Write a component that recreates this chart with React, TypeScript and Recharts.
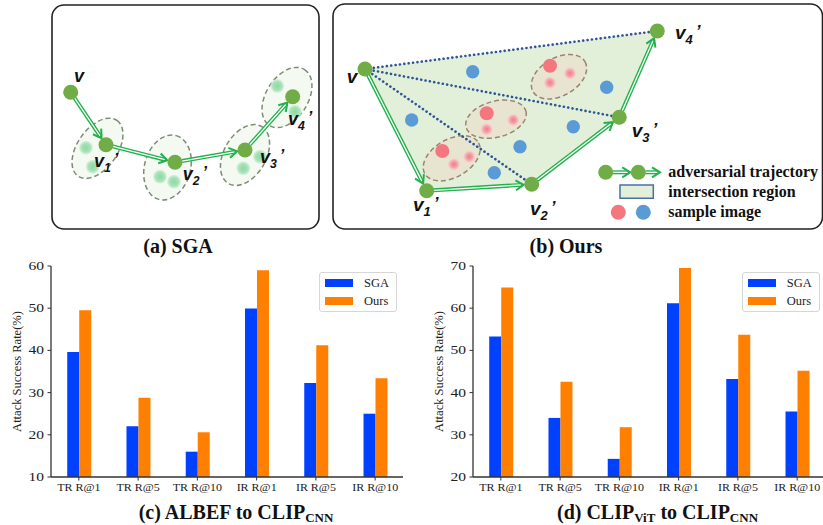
import React from 'react';
import {
  BarChart,
  Bar,
  XAxis,
  YAxis,
  Legend,
  ScatterChart,
  Scatter,
  ReferenceArea,
} from 'recharts';

// ---------- bar charts ----------
const metrics = ['TR R@1', 'TR R@5', 'TR R@10', 'IR R@1', 'IR R@5', 'IR R@10'];
const metricPos = [0, 1, 2, 3, 4, 5];
const methods = ['SGA', 'Ours'];

const albefSga = [39.6, 22.0, 16.0, 49.9, 32.3, 25.0];
const albefOurs = [49.5, 28.8, 20.6, 59.0, 41.2, 33.4];
const albefTicks = [10, 20, 30, 40, 50, 60];

const vitSga = [53.3, 34.0, 24.3, 61.2, 43.2, 35.5];
const vitOurs = [64.9, 42.6, 31.8, 69.5, 53.7, 45.2];
const vitTicks = [20, 30, 40, 50, 60, 70];

// ---------- diagrams (diagram units, y grows downward) ----------
// (a) SGA: step-by-step trajectory
const sgaNodes = [
  { x: 70.7, y: 92.3 },
  { x: 106, y: 144.7 },
  { x: 175, y: 162.3 },
  { x: 245, y: 150 },
  { x: 292.7, y: 96.7 },
];
const sgaNeighbours = [
  { x: 86, y: 147.7 },
  { x: 92.7, y: 166.7 },
  { x: 160, y: 176.7 },
  { x: 174, y: 181.7 },
  { x: 243.3, y: 168.3 },
  { x: 260, y: 156.7 },
  { x: 277.3, y: 86 },
  { x: 295, y: 111.7 },
];
const sgaHalos = [
  { x: 97.5, y: 148.3, a: 34, b: 20, angle: -55 },
  { x: 167.5, y: 167.5, a: 33, b: 23, angle: -75 },
  { x: 245, y: 155, a: 33, b: 21, angle: -60 },
  { x: 287, y: 97.5, a: 33, b: 21, angle: -58 },
];
const sgaLabels = [
  { x: 74, y: 81.7, sub: '' },
  { x: 94, y: 166.7, sub: '1' },
  { x: 182.7, y: 180, sub: '2' },
  { x: 260, y: 163.3, sub: '3' },
  { x: 288, y: 125, sub: '4' },
];

// (b) Ours: trajectory plus the region spanned from v
const oursNodes = [
  { x: 365, y: 69 },
  { x: 426.7, y: 190.7 },
  { x: 531.7, y: 184.3 },
  { x: 619.3, y: 117.3 },
  { x: 657.3, y: 31 },
];
const oursSpokes = [
  [oursNodes[0], oursNodes[2]],
  [oursNodes[0], oursNodes[3]],
  [oursNodes[0], oursNodes[4]],
];
const blueSamples = [
  { x: 472.7, y: 71.7 },
  { x: 606.7, y: 87.3 },
  { x: 411.7, y: 120 },
  { x: 573.3, y: 126.7 },
  { x: 520, y: 146.7 },
  { x: 494.3, y: 172.7 },
];
const redSamples = [
  { x: 550, y: 65.7 },
  { x: 486.7, y: 113.3 },
  { x: 442.3, y: 151 },
];
const pinkNeighbours = [
  { x: 570, y: 73.3 },
  { x: 550, y: 82.7 },
  { x: 513.3, y: 120 },
  { x: 486.7, y: 129.3 },
  { x: 469.3, y: 156.7 },
  { x: 454, y: 164.3 },
];
const redHalos = [
  { x: 559, y: 76.7, a: 30, b: 19, angle: -30 },
  { x: 496, y: 119.2, a: 31, b: 18, angle: -15 },
  { x: 451.7, y: 158.3, a: 31, b: 19, angle: -30 },
];
const oursLabels = [
  { x: 346.7, y: 83.3, sub: '' },
  { x: 413, y: 210.7, sub: '1' },
  { x: 530, y: 215, sub: '2' },
  { x: 631.7, y: 137, sub: '3' },
  { x: 675, y: 39.3, sub: '4' },
];

// legend of (b)
const keyTrajectory = [
  { x: 605.7, y: 172.3 },
  { x: 638.3, y: 172.3 },
  { x: 660, y: 172.3 },
];
const keyRed = [{ x: 618.3, y: 212.3 }];
const keyBlue = [{ x: 643.3, y: 212.3 }];
const keyTexts = [
  { x: 668.3, y: 176.5, text: 'adversarial trajectory' },
  { x: 668.3, y: 196.5, text: 'intersection region' },
  { x: 668.3, y: 216.5, text: 'sample image' },
];

const SERIF = '"Liberation Serif", "Times New Roman", serif';
const SANS = '"Liberation Sans", Arial, sans-serif';
const BLUE = '#0040ff';
const ORANGE = '#ff7f00';
const SPINE = '#333';
const ARROW = '#22b14c';
const NODE = '#70ad47';

const Nothing = () => <g />;

const nodeShape = (p: any) => <circle cx={p.cx} cy={p.cy} r={7.5} fill={NODE} />;
const dotShape = (fill: string, r: number) => (p: any) => (
  <circle cx={p.cx} cy={p.cy} r={r} fill={fill} />
);
const haloShape = (stroke: string, fill: string) => (p: any) => (
  <ellipse
    cx={p.cx}
    cy={p.cy}
    rx={p.payload.a}
    ry={p.payload.b}
    transform={`rotate(${p.payload.angle} ${p.cx} ${p.cy})`}
    fill={fill}
    stroke={stroke}
    strokeWidth={1.5}
    strokeDasharray="5 3"
  />
);
const labelShape = (size: number) => (p: any) => (
  <text
    x={p.cx}
    y={p.cy}
    fontFamily={SANS}
    fontStyle="italic"
    fontWeight="bold"
    fontSize={size}
    fill="#111"
  >
    v
    {p.payload.sub && (
      <tspan fontSize={size * 0.68} dy={5}>
        {p.payload.sub}
      </tspan>
    )}
    {p.payload.sub && (
      <tspan fontSize={size * 0.9} dx={3} dy={-7}>
        ’
      </tspan>
    )}
  </text>
);
const keyTextShape = (p: any) => (
  <text x={p.cx} y={p.cy} fontFamily={SERIF} fontWeight="bold" fontSize={16} fill="#111">
    {p.payload.text}
  </text>
);

// double-stroke arrows between consecutive points; openEnd leaves the last point bare
const arrowPath = (openEnd: boolean) => (props: any) => {
  const pts = props.points as { x: number; y: number }[];
  const gap = (i: number) => (openEnd && i === pts.length - 1 ? 0 : 8);
  const parts: React.ReactNode[] = [];
  for (let i = 1; i < pts.length; i++) {
    const a = pts[i - 1];
    const b = pts[i];
    const len = Math.hypot(b.x - a.x, b.y - a.y);
    const ux = (b.x - a.x) / len;
    const uy = (b.y - a.y) / len;
    const sx = a.x + ux * (gap(i - 1) - 1);
    const sy = a.y + uy * (gap(i - 1) - 1);
    const ex = b.x - ux * gap(i);
    const ey = b.y - uy * gap(i);
    const hx = ex - ux * 8;
    const hy = ey - uy * 8;
    const nx = -uy * 5;
    const ny = ux * 5;
    parts.push(
      <g key={i}>
        <line x1={sx} y1={sy} x2={ex - ux * 1.5} y2={ey - uy * 1.5} stroke={ARROW} strokeWidth={4} />
        <line x1={sx} y1={sy} x2={ex - ux * 2.5} y2={ey - uy * 2.5} stroke="#fff" strokeWidth={1.3} />
        <polyline
          points={`${hx + nx},${hy + ny} ${ex},${ey} ${hx - nx},${hy - ny}`}
          fill="none"
          stroke={ARROW}
          strokeWidth={2}
        />
      </g>,
    );
  }
  return <g>{parts}</g>;
};

const regionShape = (props: any) => (
  <polygon
    points={(props.points as { x: number; y: number }[]).map((q) => `${q.x},${q.y}`).join(' ')}
    fill="#e2f0d9"
    stroke="none"
  />
);

const panelBox = (p: any) => (
  <rect
    x={p.x}
    y={p.y}
    width={p.width}
    height={p.height}
    rx={12}
    fill="none"
    stroke="#222"
    strokeWidth={1.6}
  />
);

function Diagrams() {
  return (
    <ScatterChart width={823} height={235} margin={{ top: 0, right: 0, bottom: 0, left: 0 }}>
      <defs>
        <radialGradient id="mintBlob">
          <stop offset="0%" stopColor="#8fd8a5" />
          <stop offset="65%" stopColor="#a9e2ba" />
          <stop offset="100%" stopColor="#cdeed6" stopOpacity={0.6} />
        </radialGradient>
        <radialGradient id="pinkBlob">
          <stop offset="0%" stopColor="#ef7d88" />
          <stop offset="55%" stopColor="#f5a6ad" />
          <stop offset="100%" stopColor="#fad4d8" stopOpacity={0.4} />
        </radialGradient>
      </defs>
      <XAxis type="number" dataKey="x" domain={[0, 823]} hide allowDataOverflow />
      <YAxis type="number" dataKey="y" domain={[0, 235]} reversed hide allowDataOverflow />

      <ReferenceArea x1={52} x2={319} y1={5} y2={229} shape={panelBox} />
      <ReferenceArea x1={333} x2={822.5} y1={4} y2={229} shape={panelBox} />

      {/* (a) */}
      <Scatter data={sgaHalos} shape={haloShape('#7d8c76', '#f4faf2')} isAnimationActive={false} />
      <Scatter data={sgaNeighbours} shape={dotShape('url(#mintBlob)', 7)} isAnimationActive={false} />
      <Scatter data={sgaNodes} line={arrowPath(false)} shape={Nothing} isAnimationActive={false} />
      <Scatter data={sgaNodes} shape={nodeShape} isAnimationActive={false} />
      <Scatter data={sgaLabels} shape={labelShape(18)} isAnimationActive={false} />

      {/* (b) */}
      <Scatter data={oursNodes} line={regionShape} shape={Nothing} isAnimationActive={false} />
      <Scatter data={redHalos} shape={haloShape('#9c8474', 'rgba(238,214,196,0.45)')} isAnimationActive={false} />
      {oursSpokes.map((pair, i) => (
        <Scatter
          key={i}
          data={pair}
          line={{ stroke: '#2f5597', strokeWidth: 2.6, strokeDasharray: '0.1 4.3', strokeLinecap: 'round' }}
          shape={Nothing}
          isAnimationActive={false}
        />
      ))}
      <Scatter data={blueSamples} shape={dotShape('#5b9bd5', 6.7)} isAnimationActive={false} />
      <Scatter data={redSamples} shape={dotShape('#f4777f', 7)} isAnimationActive={false} />
      <Scatter data={pinkNeighbours} shape={dotShape('url(#pinkBlob)', 6.5)} isAnimationActive={false} />
      <Scatter data={oursNodes} line={arrowPath(false)} shape={Nothing} isAnimationActive={false} />
      <Scatter data={oursNodes} shape={nodeShape} isAnimationActive={false} />
      <Scatter data={oursLabels} shape={labelShape(19)} isAnimationActive={false} />

      {/* key */}
      <Scatter data={keyTrajectory} line={arrowPath(true)} shape={Nothing} isAnimationActive={false} />
      <Scatter data={keyTrajectory.slice(0, 2)} shape={nodeShape} isAnimationActive={false} />
      <ReferenceArea
        x1={620}
        x2={653.3}
        y1={185}
        y2={198.3}
        fill="#e2f0d9"
        fillOpacity={1}
        stroke="#4a6fa6"
        strokeWidth={1.5}
      />
      <Scatter data={keyRed} shape={dotShape('#f4777f', 7.5)} isAnimationActive={false} />
      <Scatter data={keyBlue} shape={dotShape('#5b9bd5', 7.5)} isAnimationActive={false} />
      <Scatter data={keyTexts} shape={keyTextShape} isAnimationActive={false} />
    </ScatterChart>
  );
}

const ValueTick = (p: any) => (
  <g transform={`translate(${p.x},${p.y})`}>
    <text transform="scale(1.35,1)" textAnchor="end" dy="0.35em" fontFamily={SERIF} fontSize={11.5} fill="#222">
      {p.payload.value}
    </text>
  </g>
);

const MetricTick = (p: any) => (
  <g transform={`translate(${p.x},${p.y})`}>
    <text transform="scale(1.2,1)" textAnchor="middle" dy="0.75em" fontFamily={SERIF} fontSize={10} fill="#222">
      {metrics[p.payload.value]}
    </text>
  </g>
);

const LegendBox = ({ payload }: any) => {
  const items = [...(payload || [])].sort(
    (a: any, b: any) => methods.indexOf(a.value) - methods.indexOf(b.value),
  );
  return (
    <div
      style={{
        width: 78,
        height: 40,
        boxSizing: 'border-box',
        border: '1px solid #d6d6d6',
        borderRadius: 3,
        background: '#fff',
        padding: '1px 0 0 5px',
        fontFamily: SERIF,
        fontSize: 12.5,
        color: '#222',
      }}
    >
      {items.map((item: any) => (
        <div key={item.value} style={{ display: 'flex', alignItems: 'center', height: 18 }}>
          <span style={{ width: 28, height: 7.5, background: item.color, marginRight: 11 }} />
          {item.value}
        </div>
      ))}
    </div>
  );
};

interface RateChartProps {
  sga: number[];
  ours: number[];
  ticks: number[];
  left: number;
  width: number;
  marginLeft: number;
  marginRight: number;
  legendLeft: number;
}

function RateChart({ sga, ours, ticks, left, width, marginLeft, marginRight, legendLeft }: RateChartProps) {
  const rows = metricPos.map((pos, i) => ({ pos, sga: sga[i], ours: ours[i] }));
  const xDomain = [-0.47, 5.47];
  const yDomain = [ticks[0], ticks[ticks.length - 1]];
  const yTitle = (props: any) => {
    const vb = props.viewBox;
    const cx = vb.x + vb.width - 34.5;
    const cy = vb.y + vb.height / 2;
    return (
      <text
        x={cx}
        y={cy}
        transform={`rotate(-90 ${cx} ${cy})`}
        textAnchor="middle"
        dominantBaseline="central"
        fontFamily={SERIF}
        fontSize={12.5}
        fill="#222"
      >
        Attack Success Rate(%)
      </text>
    );
  };
  return (
    <div style={{ position: 'absolute', left, top: 250 }}>
      <BarChart
        width={width}
        height={250}
        data={rows}
        barGap={0}
        margin={{ top: 16, right: marginRight, bottom: 3, left: marginLeft }}
      >
        <XAxis
          type="number"
          dataKey="pos"
          domain={xDomain}
          ticks={metricPos}
          interval={0}
          allowDataOverflow
          height={20}
          tick={<MetricTick />}
          tickSize={3.5}
          tickMargin={3}
          axisLine={{ stroke: SPINE, strokeWidth: 1.3 }}
          tickLine={{ stroke: SPINE }}
        />
        <XAxis
          xAxisId="top"
          orientation="top"
          type="number"
          dataKey="pos"
          domain={xDomain}
          allowDataOverflow
          height={0}
          tick={false}
          tickLine={false}
          axisLine={{ stroke: SPINE, strokeWidth: 1.3 }}
        />
        <YAxis
          type="number"
          domain={yDomain}
          ticks={ticks}
          allowDataOverflow
          width={30}
          tick={<ValueTick />}
          tickSize={3.5}
          tickMargin={3.5}
          axisLine={{ stroke: SPINE, strokeWidth: 1.3 }}
          tickLine={{ stroke: SPINE }}
          label={yTitle}
        />
        <YAxis
          yAxisId="right"
          orientation="right"
          type="number"
          domain={yDomain}
          allowDataOverflow
          width={0}
          tick={false}
          tickLine={false}
          axisLine={{ stroke: SPINE, strokeWidth: 1.3 }}
        />
        <Legend
          layout="vertical"
          align="center"
          verticalAlign="middle"
          content={<LegendBox />}
          wrapperStyle={{ left: legendLeft, top: 22, width: 78 }}
        />
        <Bar dataKey="sga" name="SGA" fill={BLUE} barSize={12} isAnimationActive={false} />
        <Bar dataKey="ours" name="Ours" fill={ORANGE} barSize={12} isAnimationActive={false} />
      </BarChart>
    </div>
  );
}

const titleStyle = (center: number, top: number): React.CSSProperties => ({
  position: 'absolute',
  left: center - 160,
  width: 320,
  top,
  textAlign: 'center',
  fontFamily: SERIF,
  fontWeight: 'bold',
  fontSize: 20,
  lineHeight: '20px',
  color: '#111',
  whiteSpace: 'nowrap',
});

const subStyle: React.CSSProperties = {
  fontSize: 13,
  verticalAlign: 'baseline',
  position: 'relative',
  top: 3,
};

export default function App() {
  return (
    <div
      style={{
        position: 'absolute',
        left: 0,
        top: 0,
        width: 823,
        height: 525,
        overflow: 'hidden',
        background: '#fff',
      }}
    >
      <div style={{ position: 'absolute', left: 0, top: 0 }}>
        <Diagrams />
      </div>
      <div style={titleStyle(178, 236)}>(a) SGA</div>
      <div style={titleStyle(566, 236)}>(b) Ours</div>

      <RateChart
        sga={albefSga}
        ours={albefOurs}
        ticks={albefTicks}
        left={0}
        width={410}
        marginLeft={21}
        marginRight={7}
        legendLeft={319}
      />
      <RateChart
        sga={vitSga}
        ours={vitOurs}
        ticks={vitTicks}
        left={410}
        width={416}
        marginLeft={33}
        marginRight={1}
        legendLeft={331.7}
      />

      <div style={titleStyle(236, 502)}>
        (c) ALBEF to CLIP<span style={subStyle}>CNN</span>
      </div>
      <div style={titleStyle(657.5, 502)}>
        (d) CLIP<span style={subStyle}>ViT</span> to CLIP<span style={subStyle}>CNN</span>
      </div>
    </div>
  );
}
